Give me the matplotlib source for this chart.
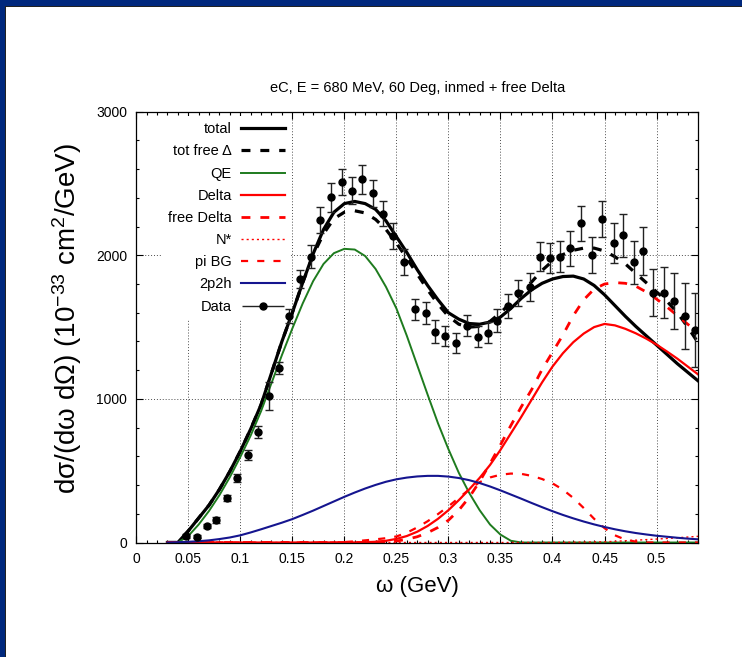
import matplotlib
matplotlib.use('Agg')
import matplotlib.pyplot as plt
import numpy as np
from matplotlib.patches import Rectangle
from matplotlib.legend_handler import HandlerErrorbar
from matplotlib.ticker import MultipleLocator, FuncFormatter

plt.rcParams['font.family'] = ['Liberation Sans', 'DejaVu Sans']
plt.rcParams['mathtext.fontset'] = 'custom'
plt.rcParams['mathtext.rm'] = 'Liberation Sans'
plt.rcParams['mathtext.it'] = 'Liberation Sans:italic'

# energy transfer grid of the model curves (GeV)
omega = np.round(np.arange(0.03, 0.545, 0.01), 2)

# model cross sections, 10^-33 cm^2/GeV
total = [0, 0, 80, 170, 260, 370, 495, 635, 790, 960,
         1180, 1400, 1600, 1810, 2010, 2180, 2300, 2360, 2375, 2360,
         2320, 2240, 2130, 2020, 1900, 1790, 1690, 1600, 1555, 1525,
         1520, 1535, 1570, 1630, 1700, 1760, 1805, 1835, 1852, 1855,
         1835, 1790, 1725, 1650, 1575, 1505, 1440, 1375, 1310, 1245,
         1185, 1125]
tot_free = [0, 0, 80, 170, 260, 370, 495, 635, 790, 960,
            1180, 1400, 1600, 1810, 2000, 2150, 2255, 2300, 2310, 2295,
            2250, 2180, 2085, 1980, 1870, 1760, 1660, 1575, 1520, 1500,
            1505, 1540, 1600, 1670, 1740, 1815, 1895, 1960, 2005, 2035,
            2050, 2050, 2030, 1990, 1940, 1875, 1810, 1745, 1680, 1600,
            1500, 1390]
qe = [0, 0, 45, 125, 220, 330, 455, 595, 745, 915,
      1110, 1305, 1490, 1665, 1820, 1940, 2015, 2045, 2040, 1995,
      1905, 1780, 1630, 1440, 1235, 1030, 830, 650, 485, 345,
      225, 125, 55, 12, 0, 0, 0, 0, 0, 0,
      0, 0, 0, 0, 0, 0, 0, 0, 0, 0,
      0, 0]
delta = [0, 0, 0, 0, 0, 0, 0, 0, 0, 0,
         0, 0, 0, 0, 0, 0, 0, 0, 0, 2,
         5, 12, 25, 45, 75, 115, 165, 225, 295, 370,
         450, 540, 645, 760, 875, 995, 1115, 1225, 1318, 1395,
         1455, 1500, 1522, 1512, 1488, 1457, 1420, 1378, 1330, 1280,
         1225, 1170]
free_delta = [0, 0, 0, 0, 0, 0, 0, 0, 0, 0,
              0, 0, 0, 0, 0, 0, 0, 0, 0, 0,
              2, 5, 10, 22, 40, 68, 105, 155, 225, 315,
              425, 550, 680, 815, 945, 1065, 1205, 1325, 1445, 1580,
              1690, 1765, 1800, 1810, 1805, 1785, 1745, 1695, 1640, 1580,
              1520, 1460]
n_star = [0, 0, 0, 0, 0, 0, 0, 0, 0, 0,
          0, 0, 0, 0, 0, 0, 0, 0, 0, 0,
          0, 0, 0, 0, 0, 0, 0, 0, 0, 0,
          0, 0, 0, 0, 0, 0, 0, 0, 1, 2,
          3, 4, 5, 8, 12, 16, 20, 24, 28, 33,
          38, 43]
pi_bg = [0, 0, 0, 0, 0, 0, 0, 0, 0, 0,
         0, 0, 0, 0, 0, 0, 0, 3, 8, 15,
         22, 30, 42, 68, 105, 148, 198, 252, 310, 370,
         420, 453, 472, 480, 478, 464, 442, 412, 368, 310,
         240, 165, 100, 50, 20, 6, 0, 0, 0, 0,
         0, 0]
two_p2h = [0, 2, 5, 9, 15, 24, 35, 50, 70, 92,
           115, 138, 163, 192, 222, 254, 286, 318, 348, 376,
           401, 423, 440, 452, 460, 464, 464, 459, 449, 434,
           414, 390, 363, 334, 305, 275, 246, 218, 192, 168,
           146, 126, 108, 92, 78, 66, 56, 47, 40, 33,
           27, 22]

# measured data
omega_data = [0.048, 0.058, 0.068, 0.077, 0.087, 0.097, 0.107, 0.117, 0.128, 0.137,
              0.147, 0.157, 0.168, 0.177, 0.187, 0.198, 0.207, 0.217, 0.228, 0.237,
              0.247, 0.257, 0.268, 0.278, 0.287, 0.297, 0.307, 0.318, 0.328, 0.338,
              0.347, 0.357, 0.367, 0.378, 0.388, 0.398, 0.407, 0.417, 0.427, 0.438,
              0.448, 0.459, 0.468, 0.478, 0.487, 0.497, 0.507, 0.517, 0.527, 0.537]
xsec_data = [47, 40, 117, 157, 308, 447, 607, 767, 1020, 1215,
             1577, 1835, 1990, 2244, 2403, 2512, 2450, 2529, 2432, 2291,
             2134, 1953, 1624, 1600, 1468, 1440, 1391, 1510, 1433, 1461,
             1545, 1649, 1740, 1781, 1990, 1979, 1990, 2049, 2223, 2002,
             2253, 2084, 2141, 1951, 2030, 1740, 1740, 1682, 1577, 1480]
xsec_err = [15, 12, 15, 20, 22, 28, 35, 42, 100, 40,
            50, 60, 80, 90, 100, 92, 96, 100, 95, 90,
            90, 90, 75, 78, 80, 70, 68, 75, 73, 75,
            80, 83, 90, 97, 100, 104, 107, 122, 122, 124,
            125, 139, 150, 148, 168, 162, 178, 197, 229, 255]

W, H = 742, 657
fig = plt.figure(figsize=(W / 100, H / 100), dpi=100)
fig.patch.set_facecolor('white')

# slide frame: navy bands on top and left edges
navy = '#00287d'
fig.add_artist(Rectangle((0, 1 - 6 / H), 1, 6 / H, transform=fig.transFigure, color=navy, lw=0))
fig.add_artist(Rectangle((0, 0), 5 / W, 1, transform=fig.transFigure, color=navy, lw=0))
fig.add_artist(Rectangle((5 / W, 1 - 7 / H), 1, 1 / H, transform=fig.transFigure, color='#222222', lw=0))
fig.add_artist(Rectangle((5 / W, 0), 1 / W, 1 - 6 / H, transform=fig.transFigure, color='#222222', lw=0))

ax = fig.add_axes([136.2 / W, 114.5 / H, 562.0 / W, 430.8 / H])

ax.plot(omega, total, color='black', lw=2.3, label='total')
ax.plot(omega, tot_free, color='black', lw=2.3, dashes=(2.8, 3.1), label='tot free \u0394')
ax.plot(omega, qe, color='#1e7b1e', lw=1.4, label='QE')
ax.plot(omega, delta, color='red', lw=1.6, label='Delta')
ax.plot(omega, free_delta, color='red', lw=2.0, dashes=(3.2, 3.6), label='free Delta')
ax.plot(omega, n_star, color='red', lw=1.0, dashes=(1.5, 2.2), label='N*')
ax.plot(omega, pi_bg, color='red', lw=1.6, dashes=(3.2, 4.1), label='pi BG')
ax.plot(omega, two_p2h, color='#15158f', lw=1.5, label='2p2h')

ax.errorbar(omega_data, xsec_data, yerr=xsec_err, fmt='o', color='black', ms=5,
            ecolor='#222222', elinewidth=1.0, capsize=3, capthick=1.0, zorder=5)
# legend sample drawn gnuplot-style with a horizontal bar
data_key = ax.errorbar([], [], xerr=[], fmt='o', color='black', ms=5,
                       ecolor='#222222', elinewidth=1.0, capsize=3, capthick=1.0,
                       label='Data')

ax.set_xlim(0, 0.54)
ax.set_ylim(0, 3000)
ax.xaxis.set_major_locator(MultipleLocator(0.05))
ax.xaxis.set_minor_locator(MultipleLocator(0.01))
ax.yaxis.set_major_locator(MultipleLocator(1000))
ax.yaxis.set_minor_locator(MultipleLocator(200))
ax.xaxis.set_major_formatter(FuncFormatter(lambda v, p: '%g' % round(v, 2)))
ax.tick_params(which='both', direction='in', top=True, right=True, width=0.8,
               labelsize=10)
ax.tick_params(which='major', length=5, pad=6.5)
ax.tick_params(which='minor', length=2.5)
for s in ax.spines.values():
    s.set_linewidth(0.9)

ax.set_axisbelow(True)
ax.grid(True, which='major', color='0.3', linestyle=(0, (1, 2)), linewidth=0.7)

ax.text(0.5, 1.055, 'eC, E = 680 MeV, 60 Deg, inmed + free Delta', transform=ax.transAxes,
        ha='center', va='center', fontsize=10.5)
ax.set_xlabel('\u03c9 (GeV)', fontsize=16, va='center')
ax.xaxis.set_label_coords(0.5, -0.101)
ax.set_ylabel('d\u03c3/(d\u03c9 d\u03a9) (10$^{-33}$ cm$^2$/GeV)', fontsize=20, va='center')
ax.yaxis.set_label_coords(-0.123, 0.521)

handles, labels = ax.get_legend_handles_labels()
leg = ax.legend(handles, labels, loc='upper right', bbox_to_anchor=(0.2751, 0.989),
                borderaxespad=0, markerfirst=False, fontsize=10.5,
                handlelength=3.0, handletextpad=0.65, labelspacing=0.56,
                borderpad=0.4, frameon=True, fancybox=False, framealpha=1,
                facecolor='white', edgecolor='none',
                handler_map={data_key: HandlerErrorbar(xerr_size=1.45)})
leg.set_zorder(4)

fig.savefig('out.png', dpi=100)
